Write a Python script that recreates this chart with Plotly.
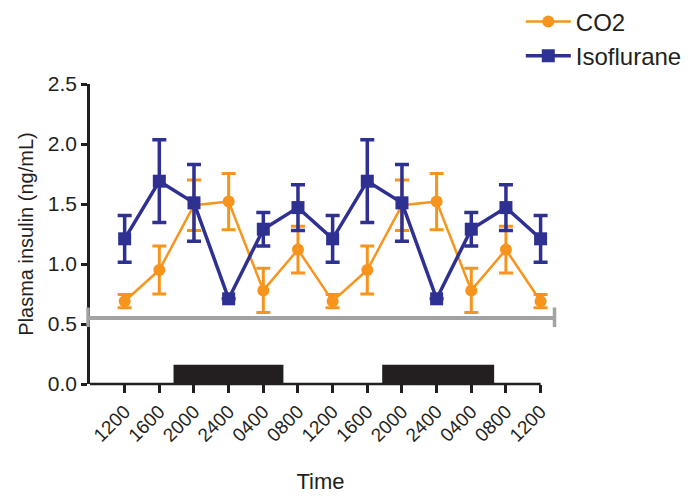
import plotly.graph_objects as go

time_labels = ["1200", "1600", "2000", "2400", "0400", "0800", "1200",
               "1600", "2000", "2400", "0400", "0800", "1200"]
co2_mean = [0.69, 0.95, 1.49, 1.52, 0.78, 1.12, 0.69, 0.95, 1.49, 1.52, 0.78, 1.12, 0.69]
co2_err = [0.055, 0.20, 0.21, 0.235, 0.185, 0.195, 0.055, 0.20, 0.21, 0.235, 0.185, 0.195, 0.055]
iso_mean = [1.21, 1.69, 1.51, 0.71, 1.29, 1.47, 1.21, 1.69, 1.51, 0.71, 1.29, 1.47, 1.21]
iso_err = [0.195, 0.345, 0.32, 0.0, 0.14, 0.19, 0.195, 0.345, 0.32, 0.0, 0.14, 0.19, 0.195]
dark_periods = [(1.41, 4.58), (7.43, 10.66)]
dark_bar_height = 0.16
break_level = 0.55

x_idx = list(range(len(time_labels)))
ORANGE = "#F7941D"
BLUE = "#2E3192"
GRAY = "#A3A3A5"
INK = "#231F20"
FONT = "Liberation Sans, Arial, sans-serif"

X_MIN, X_MAX = -1, 12.3
Y_MAX = 2.5
axis_end_frac = (x_idx[-1] - X_MIN) / (X_MAX - X_MIN)

fig = go.Figure()
fig.add_trace(go.Scatter(
    x=x_idx, y=co2_mean, name="CO2", mode="lines+markers",
    line=dict(color=ORANGE, width=2.5),
    marker=dict(symbol="circle", size=12, color=ORANGE),
    error_y=dict(type="data", array=co2_err, visible=True, color=ORANGE,
                 thickness=3, width=7),
    cliponaxis=False, legendgroup="a",
))
fig.add_trace(go.Scatter(
    x=x_idx, y=iso_mean, name="Isoflurane", mode="lines+markers",
    line=dict(color=BLUE, width=3.5),
    marker=dict(symbol="square", size=13, color=BLUE),
    error_y=dict(type="data", array=iso_err, visible=True, color=BLUE,
                 thickness=3.5, width=7),
    cliponaxis=False, legendgroup="b",
))

for x0, x1 in dark_periods:
    fig.add_shape(type="rect", xref="x", yref="y", x0=x0, x1=x1, y0=0,
                  y1=dark_bar_height, fillcolor=INK, line=dict(width=0),
                  layer="above")

# x axis line ending at the last tick
fig.add_shape(type="line", xref="paper", yref="paper", x0=0, x1=axis_end_frac,
              y0=0, y1=0, line=dict(color=INK, width=2.5), layer="above")

# axis-break style gray line with end caps
bp = break_level / Y_MAX
gx0, gx1 = -0.0043, 1.0076
fig.add_shape(type="line", xref="paper", yref="paper", x0=gx0, x1=gx1,
              y0=bp, y1=bp, line=dict(color=GRAY, width=4))
for xc in (gx0, gx1):
    fig.add_shape(type="line", xref="paper", yref="paper", x0=xc, x1=xc,
                  y0=bp - 0.03, y1=bp + 0.035, line=dict(color=GRAY, width=3.5))

fig.update_layout(
    width=690, height=488,
    margin=dict(l=82, r=146.5, t=76, b=112, autoexpand=False),
    paper_bgcolor="white", plot_bgcolor="white",
    font=dict(family=FONT, size=19, color=INK),
    showlegend=True,
    legend=dict(x=0.9345, y=1.282, xanchor="left", yanchor="top",
                font=dict(size=24, family=FONT, color=INK),
                itemwidth=45, tracegroupgap=0, bgcolor="rgba(0,0,0,0)"),
    xaxis=dict(
        range=[X_MIN, X_MAX], tickmode="array", tickvals=x_idx, ticktext=time_labels,
        tickangle=-45, showgrid=False, zeroline=False, showline=False,
        ticks="outside", ticklen=8, tickwidth=2.5, tickcolor=INK,
        tickfont=dict(size=19),
        title=dict(text="Time", font=dict(size=22), standoff=28),
    ),
    yaxis=dict(
        range=[0, Y_MAX], tickmode="array", tickvals=[0, 0.5, 1.0, 1.5, 2.0, 2.5],
        ticktext=["0.0", "0.5", "1.0", "1.5", "2.0", "2.5"],
        showgrid=False, zeroline=False,
        showline=True, linecolor=INK, linewidth=2.5,
        ticks="outside", ticklen=6, tickwidth=2.5, tickcolor=INK,
        tickfont=dict(size=21),
        title=dict(text="Plasma insulin (ng/mL)", font=dict(size=20), standoff=9),
    ),
)

fig.write_html("out.html")
